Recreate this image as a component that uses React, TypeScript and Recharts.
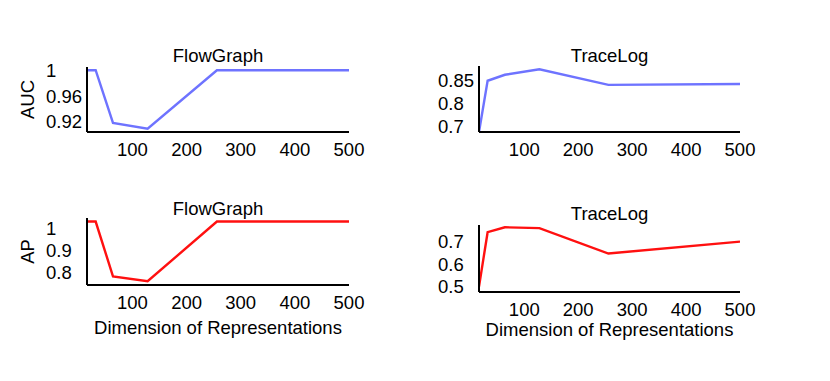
import React from 'react';
import { LineChart, Line, XAxis, YAxis } from 'recharts';

const dims = [16, 32, 64, 128, 256, 500];
const xTicks = [100, 200, 300, 400, 500];

const aucFlowGraph = [1.0, 1.0, 0.918, 0.909, 1.0, 1.0];
const aucTraceLog = [0.737, 0.848, 0.861, 0.873, 0.839, 0.841];
const apFlowGraph = [1.03, 1.03, 0.784, 0.762, 1.03, 1.03];
const apTraceLog = [0.5, 0.742, 0.764, 0.76, 0.647, 0.7];

const aucFlowTicks = [0.92, 0.96, 1.0];
const aucFlowLabels = ['0.92', '0.96', '1'];
const aucTraceTicks = [0.75, 0.8, 0.85];
const aucTraceLabels = ['0.7', '0.8', '0.85'];
const apFlowTicks = [0.8, 0.9, 1.0];
const apFlowLabels = ['0.8', '0.9', '1'];
const apTraceTicks = [0.5, 0.6, 0.7];
const apTraceLabels = ['0.5', '0.6', '0.7'];

const W = 830;
const H = 381;
const FONT = '"Liberation Sans", Arial, Helvetica, sans-serif';
const FS = 18.5;
const BLUE = '#6e73ff';
const RED = '#ff1010';

type Panel = {
  title: string;
  values: number[];
  ticks: number[];
  labels: string[];
  domain: [number, number];
  color: string;
  left: number;
  right: number;
  top: number;
  bottom: number;
  titleBaseline: number;
  yLabel?: string;
  xLabelBaseline?: number;
};

const panels: Panel[] = [
  { title: 'FlowGraph', values: aucFlowGraph, ticks: aucFlowTicks, labels: aucFlowLabels, domain: [0.904, 1.005], color: BLUE, left: 87, right: 349, top: 67, bottom: 132, titleBaseline: 61.5, yLabel: 'AUC' },
  { title: 'TraceLog', values: aucTraceLog, ticks: aucTraceTicks, labels: aucTraceLabels, domain: [0.737, 0.88], color: BLUE, left: 479, right: 740, top: 66, bottom: 132, titleBaseline: 61.5 },
  { title: 'FlowGraph', values: apFlowGraph, ticks: apFlowTicks, labels: apFlowLabels, domain: [0.745, 1.046], color: RED, left: 87, right: 349, top: 218, bottom: 285, titleBaseline: 215, yLabel: 'AP', xLabelBaseline: 334 },
  { title: 'TraceLog', values: apTraceLog, ticks: apTraceTicks, labels: apTraceLabels, domain: [0.476, 0.774], color: RED, left: 479, right: 740, top: 225, bottom: 292, titleBaseline: 220, xLabelBaseline: 336 },
];

const YW = 50;
const XH = 30;

function makeYTick(p: Panel) {
  return (props: any) => {
    const { x, y, payload } = props;
    const i = p.ticks.findIndex((t) => Math.abs(t - payload.value) < 1e-9);
    return (
      <text x={x - 41} y={y} dy="0.36em" textAnchor="start" fontSize={FS} fontFamily={FONT} fill="#000">
        {i >= 0 ? p.labels[i] : payload.value}
      </text>
    );
  };
}

const XTick = (props: any) => {
  const { x, y, payload } = props;
  return (
    <text x={x} y={y + 17} dy="0.36em" textAnchor="middle" fontSize={FS} fontFamily={FONT} fill="#000">
      {payload.value}
    </text>
  );
};

function PanelChart({ p }: { p: Panel }) {
  const data = dims.map((d, i) => ({ dim: d, v: p.values[i] }));
  return (
    <div style={{ position: 'absolute', left: 0, top: 0 }}>
      <LineChart
        width={W}
        height={H}
        data={data}
        margin={{ left: p.left - YW, top: p.top, right: W - p.right, bottom: H - p.bottom - XH }}
      >
        <XAxis
          dataKey="dim"
          type="number"
          domain={[16, 500]}
          ticks={xTicks}
          interval={0}
          height={XH}
          tickLine={false}
          tickSize={0}
          tickMargin={0}
          axisLine={{ stroke: '#000', strokeWidth: 2 }}
          tick={XTick}
          allowDataOverflow
        />
        <YAxis
          type="number"
          domain={p.domain}
          ticks={p.ticks}
          interval={0}
          width={YW}
          tickLine={false}
          tickSize={0}
          tickMargin={0}
          axisLine={{ stroke: '#000', strokeWidth: 2 }}
          tick={makeYTick(p)}
          allowDataOverflow
        />
        <Line
          type="linear"
          dataKey="v"
          stroke={p.color}
          strokeWidth={2.4}
          dot={false}
          isAnimationActive={false}
        />
      </LineChart>
    </div>
  );
}

export default function App() {
  return (
    <div style={{ position: 'absolute', left: 0, top: 0, width: W, height: H, background: '#fff', overflow: 'hidden' }}>
      {panels.map((p, i) => (
        <PanelChart key={i} p={p} />
      ))}
      <svg width={W} height={H} style={{ position: 'absolute', left: 0, top: 0, pointerEvents: 'none' }}>
        {panels.map((p, i) => (
          <g key={i}>
            <text x={(p.left + p.right) / 2} y={p.titleBaseline} textAnchor="middle" fontSize={FS} fontFamily={FONT} fill="#000">
              {p.title}
            </text>
            {p.yLabel && (
              <text
                x={0}
                y={0}
                transform={`translate(34, ${(p.top + p.bottom) / 2}) rotate(-90)`}
                textAnchor="middle"
                fontSize={FS}
                fontFamily={FONT}
                fill="#000"
              >
                {p.yLabel}
              </text>
            )}
            {p.xLabelBaseline && (
              <text x={(p.left + p.right) / 2} y={p.xLabelBaseline} textAnchor="middle" fontSize={FS} fontFamily={FONT} fill="#000">
                Dimension of Representations
              </text>
            )}
          </g>
        ))}
      </svg>
    </div>
  );
}
